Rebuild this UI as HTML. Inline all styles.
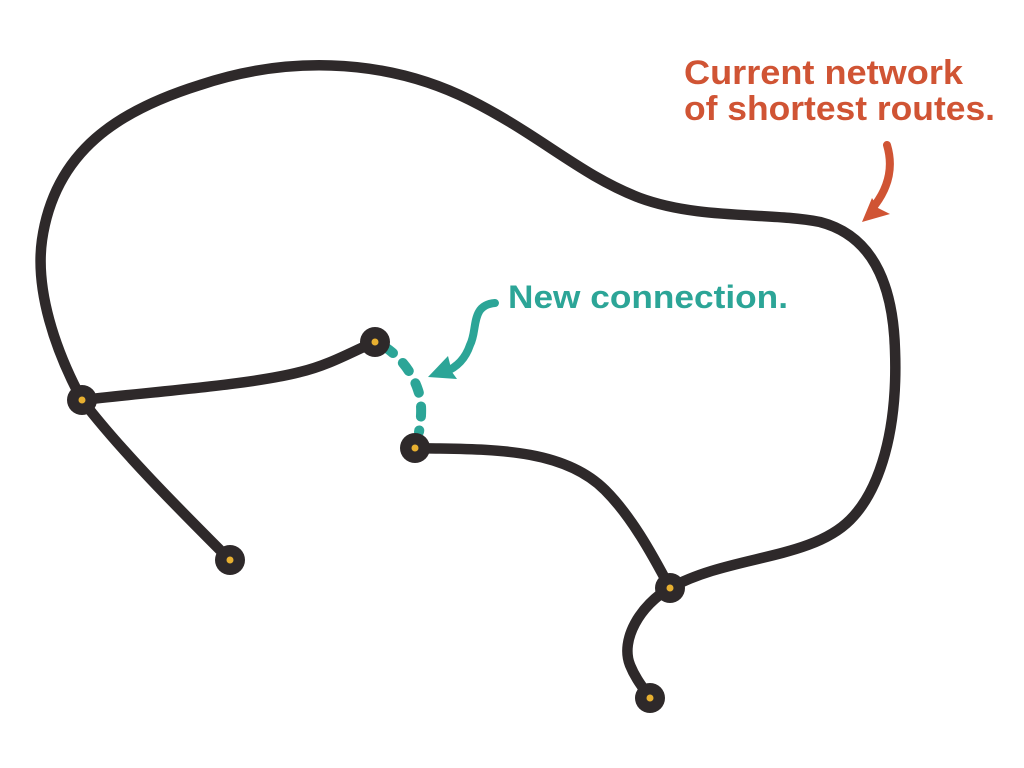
<!DOCTYPE html>
<html><head><meta charset="utf-8"><style>
html,body{margin:0;padding:0;background:#fff;}
svg{display:block;}
text{font-family:"Liberation Sans",sans-serif;font-weight:bold;}
</style></head><body>
<svg width="1024" height="768" viewBox="0 0 1024 768" xmlns="http://www.w3.org/2000/svg">
<g fill="none" stroke="#2e292a" stroke-width="10.5" stroke-linecap="round">
<path d="M82,400 C55,350 35,290 42,240 C55,150 120,110 200,85 C280,58 380,55 470,100 C540,135 580,175 640,198 C700,220 770,212 820,222 C870,235 893,280 895,350 C898,430 880,490 850,520 C810,560 730,555 670,588"/>
<path d="M82,400 C120,450 180,510 230,560"/>
<path d="M82,400 C150,392 250,385 300,372 C330,365 355,350 375,342"/>
<path d="M415,448 C480,450 560,445 605,490 C630,515 650,550 670,588"/>
<path d="M670,588 C640,605 620,640 630,665 C636,680 645,690 650,698"/>
</g>
<path d="M385,347 C400,357 412,372 418,390 C423,405 421,420 419,432" fill="none" stroke="#2ca597" stroke-width="10" stroke-linecap="round" stroke-dasharray="10,14"/>
<g fill="#2e292a">
<circle cx="82" cy="400" r="15"/><circle cx="375" cy="342" r="15"/><circle cx="415" cy="448" r="15"/>
<circle cx="230" cy="560" r="15"/><circle cx="670" cy="588" r="15"/><circle cx="650" cy="698" r="15"/>
</g>
<g fill="#e8b030">
<circle cx="82" cy="400" r="3.5"/><circle cx="375" cy="342" r="3.5"/><circle cx="415" cy="448" r="3.5"/>
<circle cx="230" cy="560" r="3.5"/><circle cx="670" cy="588" r="3.5"/><circle cx="650" cy="698" r="3.5"/>
</g>
<path d="M495,303 C470,305 478,330 470,345 C465,360 455,368 445,372" fill="none" stroke="#2ca597" stroke-width="8" stroke-linecap="round"/>
<polygon points="428,377 448,356 452,372 457,379" fill="#2ca597"/>
<path d="M887,145 C893,165 890,185 875,205" fill="none" stroke="#d05434" stroke-width="8" stroke-linecap="round"/>
<polygon points="862,222 872,198 878,208 890,214" fill="#d05434"/>
<text x="684" y="84" font-size="34" fill="#d05434" textLength="279" lengthAdjust="spacingAndGlyphs">Current network</text>
<text x="684" y="120" font-size="34" fill="#d05434" textLength="311" lengthAdjust="spacingAndGlyphs">of shortest routes.</text>
<text x="508" y="308" font-size="32" fill="#2ca597" textLength="280" lengthAdjust="spacingAndGlyphs">New connection.</text>
</svg>
</body></html>
